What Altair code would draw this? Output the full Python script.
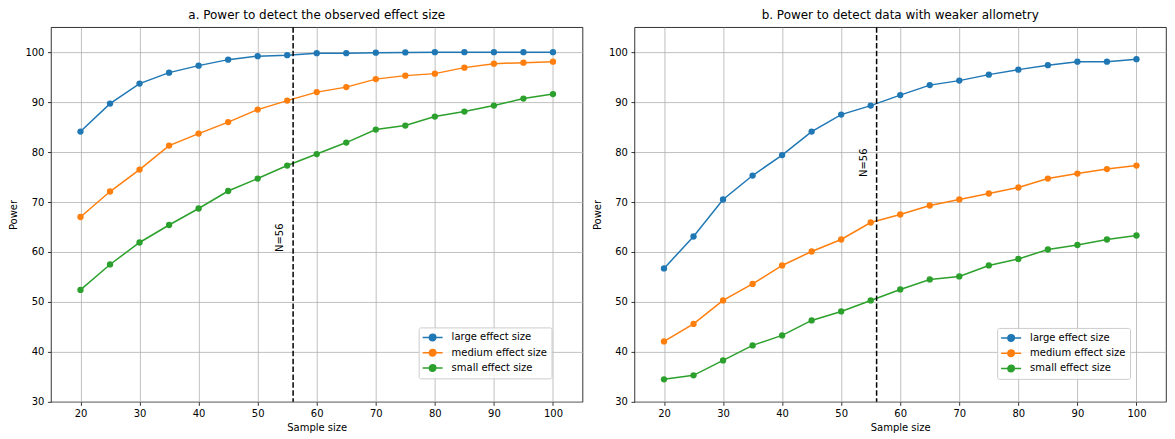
import altair as alt
import pandas as pd

# ---------------- data ----------------
sample_sizes = [20, 25, 30, 35, 40, 45, 50, 55, 60, 65, 70, 75, 80, 85, 90, 95, 100]
series_names = ["large effect size", "medium effect size", "small effect size"]
series_colors = ["#1f77b4", "#ff7f0e", "#2ca02c"]

a_large = [84.1, 89.7, 93.7, 95.9, 97.3, 98.5, 99.2, 99.4, 99.8, 99.8, 99.9, 99.95, 100.0, 100.0, 100.0, 100.0, 100.0]
a_medium = [67.0, 72.1, 76.5, 81.3, 83.7, 86.0, 88.5, 90.3, 92.0, 93.0, 94.6, 95.3, 95.7, 96.9, 97.7, 97.9, 98.1]
a_small = [52.4, 57.5, 61.9, 65.4, 68.7, 72.2, 74.7, 77.3, 79.6, 81.9, 84.5, 85.3, 87.1, 88.1, 89.3, 90.7, 91.6]

b_large = [56.7, 63.1, 70.5, 75.3, 79.4, 84.1, 87.5, 89.3, 91.4, 93.4, 94.3, 95.5, 96.5, 97.4, 98.1, 98.1, 98.6]
b_medium = [42.1, 45.6, 50.3, 53.6, 57.3, 60.1, 62.5, 65.9, 67.5, 69.3, 70.5, 71.7, 72.9, 74.7, 75.7, 76.6, 77.3]
b_small = [34.5, 35.3, 38.3, 41.3, 43.3, 46.3, 48.1, 50.3, 52.5, 54.5, 55.1, 57.3, 58.6, 60.5, 61.4, 62.5, 63.3]

x_ticks = [20, 30, 40, 50, 60, 70, 80, 90, 100]
y_ticks = [30, 40, 50, 60, 70, 80, 90, 100]
x_domain = [15, 105]
y_domain = [30, 105]

marker_n = 56
marker_label = "N=56"
label_x = 53
label_y_a = 60
label_y_b = 75

title_a = "a. Power to detect the observed effect size"
title_b = "b. Power to detect data with weaker allometry"

# legend symbol: a line segment with a (concentric-stroke) filled circle in the middle
SYMBOL = ("M-1.2,0L2.8,0"
          "M0.15,0A0.65,0.65 0 1,1 1.45,0A0.65,0.65 0 1,1 0.15,0"
          "M0.4,0A0.4,0.4 0 1,1 1.2,0A0.4,0.4 0 1,1 0.4,0"
          "M0.6,0A0.2,0.2 0 1,1 1.0,0A0.2,0.2 0 1,1 0.6,0")

PANEL_W = 532
PANEL_H = 375


def long_table(large, medium, small):
    rows = []
    for name, vals in zip(series_names, [large, medium, small]):
        for n, v in zip(sample_sizes, vals):
            rows.append({"n": n, "power": v, "effect": name})
    return pd.DataFrame(rows)


def panel(df, title, label_y, legend_x, legend_y):
    x_enc = alt.X("n:Q", title="Sample size",
                  scale=alt.Scale(domain=x_domain, nice=False, zero=False),
                  axis=alt.Axis(values=x_ticks, labelFlush=False))
    y_enc = alt.Y("power:Q", title="Power",
                  scale=alt.Scale(domain=y_domain, nice=False, zero=False),
                  axis=alt.Axis(values=y_ticks))
    color_scale = alt.Scale(domain=series_names, range=series_colors)
    legend = alt.Legend(title=None, orient="none", legendX=legend_x, legendY=legend_y,
                        symbolType=SYMBOL, symbolSize=100, symbolStrokeWidth=1.5)

    lines = alt.Chart(df).mark_line(strokeWidth=1.5).encode(
        x=x_enc, y=y_enc,
        color=alt.Color("effect:N", scale=color_scale, legend=legend))
    points = alt.Chart(df).mark_point(filled=True, size=40, opacity=1).encode(
        x=x_enc, y=y_enc,
        color=alt.Color("effect:N", scale=color_scale, legend=None))
    rule = alt.Chart(pd.DataFrame({"n": [marker_n]})).mark_rule(
        color="black", strokeWidth=1.5, strokeDash=[5.5, 2.4]).encode(x=x_enc)
    text = alt.Chart(pd.DataFrame({"n": [label_x], "power": [label_y], "label": [marker_label]})).mark_text(
        angle=270, align="left", baseline="top", fontSize=10, color="black", font="DejaVu Sans"
    ).encode(x=x_enc, y=y_enc, text="label:N")

    return alt.layer(lines, points, rule, text).properties(
        width=PANEL_W, height=PANEL_H,
        title=alt.TitleParams(title, fontSize=12, fontWeight="normal", font="DejaVu Sans",
                              color="black", anchor="middle", offset=-8, baseline="bottom"))


df_a = long_table(a_large, a_medium, a_small)
df_b = long_table(b_large, b_medium, b_small)

chart = alt.hconcat(
    panel(df_a, title_a, label_y_a, 368, 300.5),
    panel(df_b, title_b, label_y_b, 363, 301),
    spacing=8,
).resolve_legend(color="independent").properties(
    padding={"left": 0, "top": 0, "right": 0, "bottom": 0}
).configure(font="DejaVu Sans").configure_view(
    stroke="black", strokeWidth=0.8
).configure_axis(
    domain=False, tickColor="black", tickWidth=0.8, tickSize=3.5, labelPadding=3.5,
    labelFontSize=10, labelColor="black", labelFont="DejaVu Sans",
    gridColor="#b0b0b0", gridWidth=0.8,
    titleFontSize=10, titleFontWeight="normal", titleColor="black", titleFont="DejaVu Sans",
    titlePadding=6,
).configure_axisX(titlePadding=4).configure_legend(
    padding=4, fillColor="rgba(255,255,255,0.8)", strokeColor="#cccccc", cornerRadius=2,
    labelFontSize=10, labelColor="black", labelFont="DejaVu Sans", labelOffset=17, rowPadding=1.3,
)

chart.save("out.html", embed_options={"renderer": "svg", "actions": False})
